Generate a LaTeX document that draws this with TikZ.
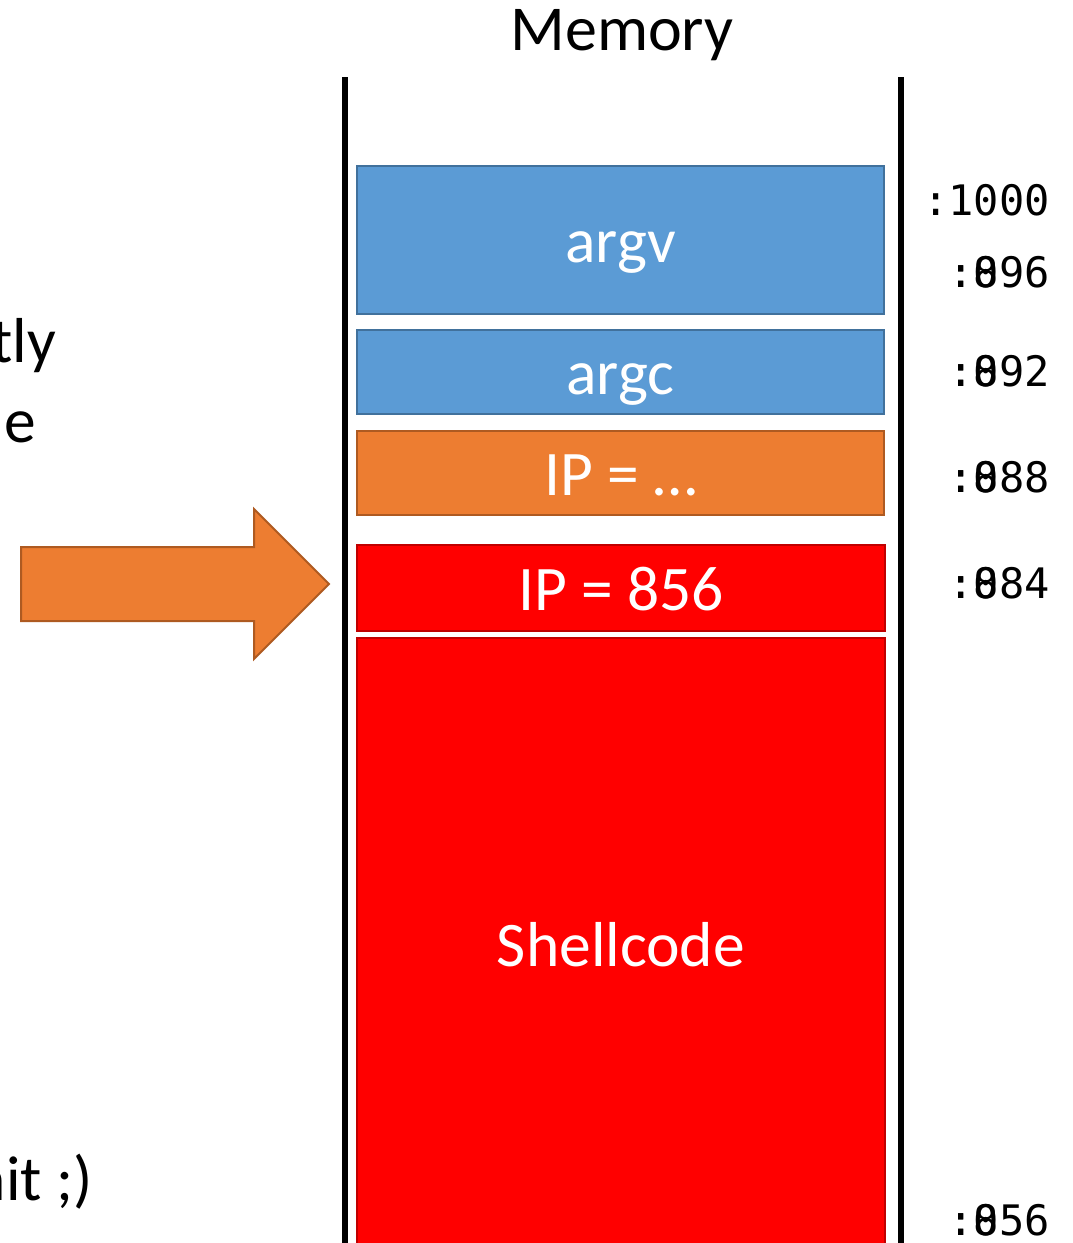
\documentclass[tikz,border=0pt]{standalone}
\usepackage{fontspec}
\setmainfont{Carlito}
\newfontfamily\addrfont{DejaVu Sans Mono}
\definecolor{argblue}{HTML}{5B9BD5}
\definecolor{argblueline}{HTML}{41719C}
\definecolor{ipor}{HTML}{ED7D31}
\definecolor{iporline}{HTML}{AE5A21}
\definecolor{hotred}{HTML}{FF0000}
\definecolor{hotredline}{HTML}{C00000}
\tikzset{
  celltext/.style={inner sep=0pt, text=white, text height=44pt, text depth=0pt,
    font=\fontsize{63.5}{70}\selectfont},
  cell/.style={celltext, draw, line width=2pt, minimum width=527pt},
  wall/.style={line width=6pt, black},
  addr/.style={anchor=east, inner sep=0pt, font=\addrfont\fontsize{42}{48}\selectfont},
  side/.style={anchor=base east, inner sep=0pt, font=\fontsize{63.5}{70}\selectfont},
}
\begin{document}
\begin{tikzpicture}[x=1pt,y=-1pt]
\useasboundingbox (0,0) rectangle (1073,1243);
\clip (0,0) rectangle (1073,1243);

% title
\node[anchor=base, inner sep=0pt, font=\fontsize{64}{70}\selectfont] (title) at (622,50) {Memory};

% walls of the memory column
\draw[wall] (345,77) -- (345,1250);
\draw[wall] (901,77) -- (901,1250);

% stack cells
\node[cell, fill=argblue, draw=argblueline, minimum height=148pt] (argv) at (620.5,240) {argv};
\node[cell, fill=argblue, draw=argblueline, minimum height=84pt] (argc) at (620.5,372) {argc};
\node[cell, fill=ipor, draw=iporline, minimum height=84pt] (ipold) at (620.5,473) {IP = \ldots};
\node[cell, fill=hotred, draw=hotredline, minimum width=528pt, minimum height=86pt] (ipnew) at (621,588) {IP = 856};
\path[fill=hotred, draw=hotredline, line width=2pt] (357,638) rectangle (885,1260);
\node[celltext] (shell) at (621,944) {Shellcode};

% addresses
\node[addr] (a1000) at (1050,200) {:1000};
\node[addr] (a896) at (1050,272) {:896};
\node[addr] (a896b) at (1050,272) {:0\phantom{96}};
\node[addr] (a892) at (1050,371) {:892};
\node[addr] (a892b) at (1050,371) {:0\phantom{92}};
\node[addr] (a888) at (1050,477) {:888};
\node[addr] (a888b) at (1050,477) {:0\phantom{88}};
\node[addr] (a884) at (1050,583) {:884};
\node[addr] (a884b) at (1050,583) {:0\phantom{84}};
\node[addr] (a856) at (1050,1220) {:856};
\node[addr] (a856b) at (1050,1220) {:0\phantom{56}};

% text running in from the left
\node[side] (t1) at (56,362) {tly};
\node[side] (t2) at (36,442) {e};
\node[side] (t3) at (93,1200) {nit ;)};

% pointer arrow
\path[fill=ipor, draw=iporline, line width=2pt]
  (21,547) -- (254,547) -- (254,509) -- (329,584) -- (254,659) -- (254,621) -- (21,621) -- cycle;
\end{tikzpicture}
\end{document}
